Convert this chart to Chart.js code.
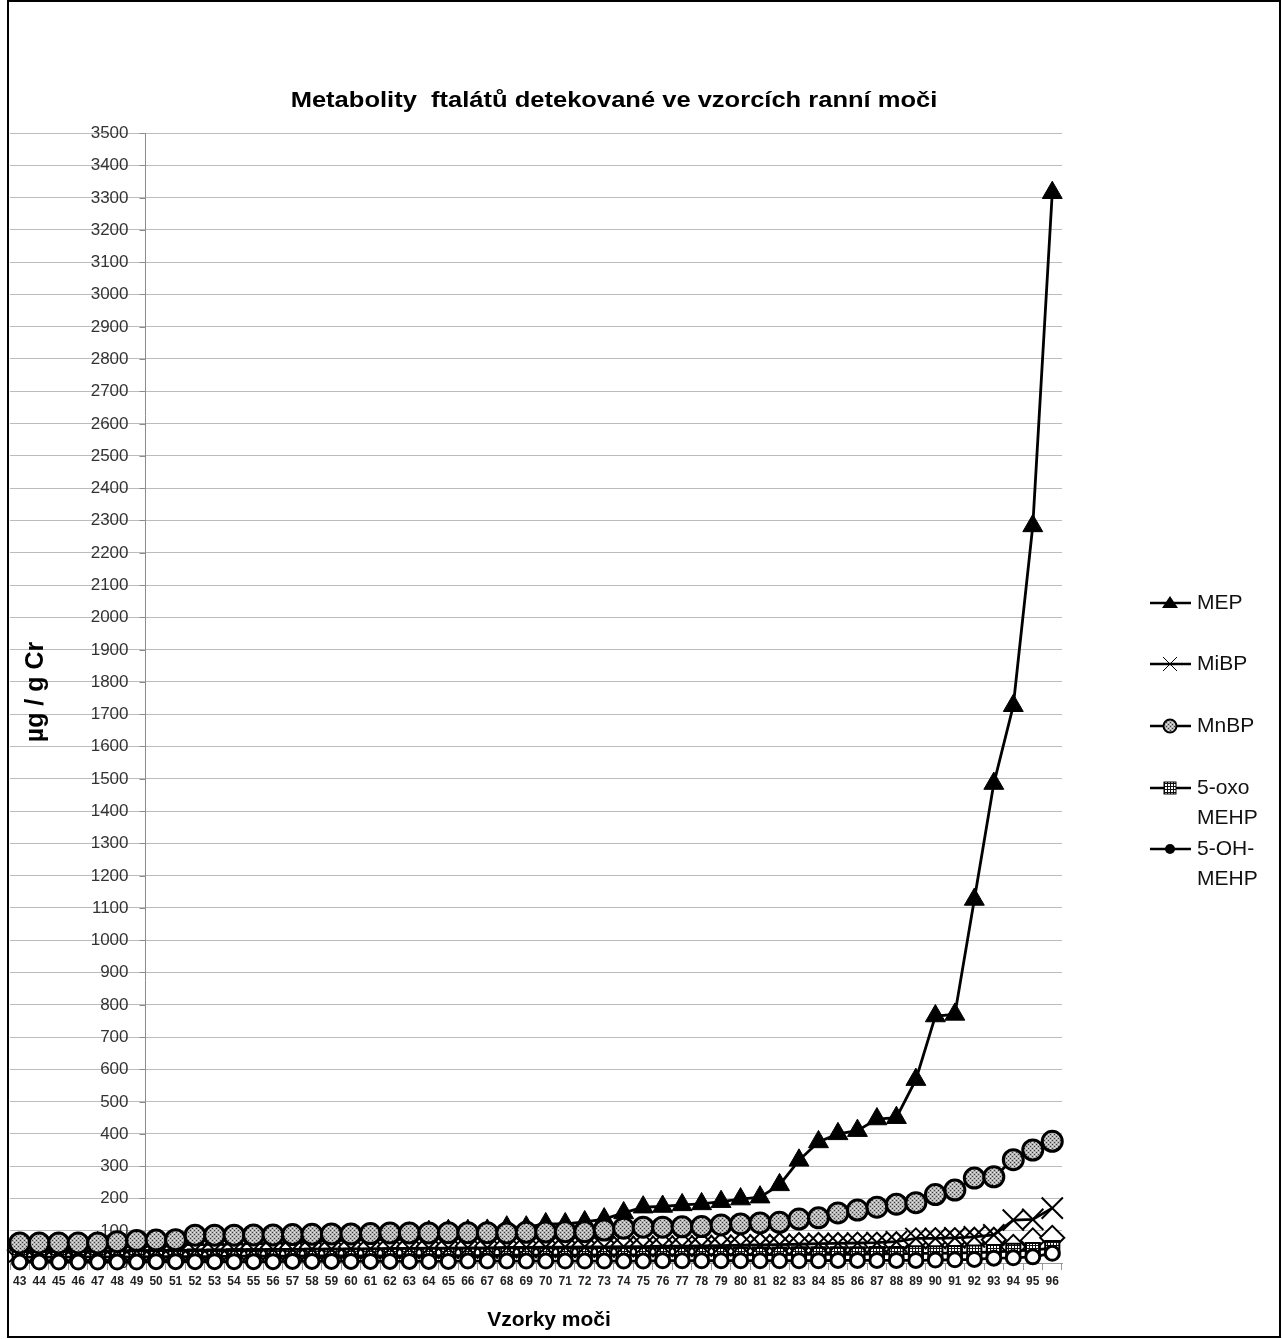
<!DOCTYPE html>
<html>
<head>
<meta charset="utf-8">
<title>Metabolity ftalátů</title>
<script src="https://cdn.jsdelivr.net/npm/chart.js@4.4.1/dist/chart.umd.min.js"></script>
<style>
  html, body { margin: 0; padding: 0; background: #fff; }
  #wrap { width: 1282px; height: 1339px; }
</style>
</head>
<body>
<div id="wrap"><canvas id="ftalatyChart" width="1282" height="1339"></canvas></div>
<script>
// Vzorky moči 43-96
var vzorky = ['43','44','45','46','47','48','49','50','51','52','53','54','55','56','57','58','59','60',
              '61','62','63','64','65','66','67','68','69','70','71','72','73','74','75','76','77','78',
              '79','80','81','82','83','84','85','86','87','88','89','90','91','92','93','94','95','96'];

var yTicks = [0,100,200,300,400,500,600,700,800,900,1000,1100,1200,1300,1400,1500,1600,1700,
              1800,1900,2000,2100,2200,2300,2400,2500,2600,2700,2800,2900,3000,3100,3200,3300,3400,3500];

// µg / g Cr
var mep = [55,57,58,60,62, 64,66,68,70,72, 73,74,75,78,80, 82,84,86,87,88,
           92,97,100,100,101, 111,111,121,121,127, 136,155,173,175,180,
           183,190,198,204,242, 318,375,400,410,446, 450,568,765,770,1126,
           1485,1726,2283,3315];

var mibp = [35,36,36,37,37, 38,38,39,39,40, 40,41,41,42,42, 43,43,44,44,45,
            45,46,46,47,47, 48,48,49,49,50, 50,51,51,52,52, 53,54,55,56,57,
            58,60,61,62,63, 66,76,76,78,81, 87,133,135,170];

var mnbp = [62,62,62,62,62, 66,70,71,72,86, 86,86,87,87,88, 89,90,90,91,93,
            93,93,94,94,94, 93,95,96,97,97, 102,108,111,111,112, 113,118,121,124,126,
            136,140,155,164,173, 182,187,212,226,263, 267,320,350,377];

var oxoMehp = [18,18,18,19,19, 19,19,20,20,20, 20,21,21,21,21, 22,22,22,22,22,
               23,23,23,23,23, 24,24,24,24,24, 25,25,25,25,25, 26,26,26,26,26,
               27,27,27,27,28, 28,30,30,31,32, 34,38,40,46];

var ohMehp = [3,3,3,3,3, 3,3,4,4,4, 4,4,4,4,5, 5,5,5,5,5, 5,5,5,6,6, 6,6,6,6,6,
              6,6,6,7,7, 7,7,7,7,7, 7,7,8,8,8, 8,8,9,10,11, 15,16,19,30];

var kosoctverce = [40,40,41,41,41, 42,42,43,43,44, 44,45,47,48,48, 49,49,50,50,51,
                   52,52,52,53,53, 53,53,53,54,54, 54,54,54,54,54, 55,55,55,55,55,
                   56,56,56,57,57, 58,70,71,71,72, 72,50,70,78];

// Fill patterns for the markers
function makePattern(size, draw) {
  var c = document.createElement('canvas');
  c.width = size; c.height = size;
  var g = c.getContext('2d');
  draw(g);
  return g.createPattern(c, 'repeat');
}
var grayDots = makePattern(4, function (g) {
  g.fillStyle = '#b4b4b4'; g.fillRect(0, 0, 4, 4);
  g.fillStyle = '#3c3c3c'; g.fillRect(0, 0, 1, 1); g.fillRect(2, 2, 1, 1);
  g.fillStyle = '#e6e6e6'; g.fillRect(2, 0, 1, 1); g.fillRect(0, 2, 1, 1);
});
var gridFill = makePattern(3, function (g) {
  g.fillStyle = '#fff'; g.fillRect(0, 0, 3, 3);
  g.fillStyle = '#111'; g.fillRect(0, 0, 3, 1); g.fillRect(0, 0, 1, 3);
});

var FONT = '"Liberation Sans", Arial, sans-serif';

function serie(label, data, style, order) {
  return Object.assign({
    label: label,
    data: data,
    order: order,
    clip: false,
    borderColor: '#000',
    borderWidth: 2.8,
    pointBorderColor: '#000',
    pointBorderWidth: 2,
    tension: 0,
    fill: false
  }, style);
}

var datasets = [
  serie('5-OH-MEHP', ohMehp, { pointStyle: 'circle', pointRadius: 7, pointBackgroundColor: '#fff', pointBorderWidth: 3 }, 0),
  serie('MnBP', mnbp, { pointStyle: 'circle', pointRadius: 10, pointBackgroundColor: grayDots, pointBorderWidth: 3 }, 1),
  serie('MEP', mep, { pointStyle: 'triangle', pointRadius: 11.5, pointBackgroundColor: '#000', pointBorderWidth: 1 }, 2),
  serie('MiBP', mibp, { pointStyle: 'crossRot', pointRadius: 15, pointBorderWidth: 2 }, 3),
  serie('5-oxo MEHP', oxoMehp, { pointStyle: 'rect', pointRadius: 10, pointBackgroundColor: gridFill, pointBorderWidth: 2 }, 4),
  serie('', kosoctverce, { pointStyle: 'rectRot', pointRadius: 12, pointBackgroundColor: '#fff', pointBorderWidth: 2 }, 5)
];

// legend entries (drawn by hand, wrapped names)
var legendItems = [
  { lines: ['MEP'], y: 603, shape: 'triangle' },
  { lines: ['MiBP'], y: 664, shape: 'cross' },
  { lines: ['MnBP'], y: 726, shape: 'circle' },
  { lines: ['5-oxo', 'MEHP'], y: 788, shape: 'square' },
  { lines: ['5-OH-', 'MEHP'], y: 849, shape: 'dot' }
];

var decorations = {
  id: 'decorations',
  beforeDatasetsDraw: function (chart) {
    var ctx = chart.ctx, x = chart.scales.x, y = chart.scales.y;
    // value axis crosses between samples 49 and 50
    var axisX = Math.round((x.getPixelForValue(6) + x.getPixelForValue(7)) / 2) - 0.5;
    ctx.save();
    ctx.strokeStyle = '#8c8c8c';
    ctx.lineWidth = 1;
    ctx.beginPath();
    ctx.moveTo(axisX, y.top);
    ctx.lineTo(axisX, y.bottom);
    ctx.stroke();
    ctx.font = '17px ' + FONT;
    ctx.fillStyle = '#333';
    ctx.textAlign = 'right';
    ctx.textBaseline = 'middle';
    yTicks.forEach(function (v) {
      var py = Math.round(y.getPixelForValue(v)) + 0.5;
      ctx.beginPath();
      ctx.moveTo(axisX - 6, py);
      ctx.lineTo(axisX, py);
      ctx.stroke();
      ctx.fillText(String(v), axisX - 17, py);
    });
    ctx.restore();
  },
  afterDraw: function (chart) {
    var ctx = chart.ctx;
    ctx.save();
    ctx.fillStyle = '#000';
    ctx.textAlign = 'center';
    ctx.textBaseline = 'middle';

    // title, stretched a little horizontally
    ctx.save();
    ctx.translate(614, 101);
    ctx.scale(1.16, 1);
    ctx.font = 'bold 22px ' + FONT;
    ctx.fillText('Metabolity  ftalátů detekované ve vzorcích ranní moči', 0, 0);
    ctx.restore();

    ctx.font = 'bold 21px ' + FONT;
    ctx.fillText('Vzorky moči', 549, 1320);

    ctx.save();
    ctx.translate(36, 692);
    ctx.rotate(-Math.PI / 2);
    ctx.font = 'bold 25px ' + FONT;
    ctx.fillText('µg / g Cr', 0, 0);
    ctx.restore();

    // legend
    ctx.font = '21px ' + FONT;
    ctx.textAlign = 'left';
    legendItems.forEach(function (it) {
      var cy = it.y, cx = 1170;
      ctx.strokeStyle = '#000';
      ctx.lineWidth = 2.5;
      ctx.beginPath();
      ctx.moveTo(1150, cy);
      ctx.lineTo(1191, cy);
      ctx.stroke();
      ctx.lineWidth = 1.5;
      if (it.shape === 'triangle') {
        ctx.fillStyle = '#000';
        ctx.beginPath();
        ctx.moveTo(cx, cy - 7); ctx.lineTo(cx + 8, cy + 5); ctx.lineTo(cx - 8, cy + 5);
        ctx.closePath(); ctx.fill();
      } else if (it.shape === 'cross') {
        ctx.lineWidth = 1;
        ctx.beginPath();
        ctx.moveTo(cx - 7, cy - 7); ctx.lineTo(cx + 7, cy + 7);
        ctx.moveTo(cx + 7, cy - 7); ctx.lineTo(cx - 7, cy + 7);
        ctx.stroke();
      } else if (it.shape === 'circle') {
        ctx.fillStyle = grayDots;
        ctx.lineWidth = 2;
        ctx.beginPath(); ctx.arc(cx, cy, 6.5, 0, Math.PI * 2); ctx.fill(); ctx.stroke();
      } else if (it.shape === 'square') {
        ctx.fillStyle = gridFill;
        ctx.fillRect(cx - 6, cy - 6, 12, 12);
        ctx.lineWidth = 1;
        ctx.strokeRect(cx - 6, cy - 6, 12, 12);
      } else {
        ctx.fillStyle = '#000';
        ctx.beginPath(); ctx.arc(cx, cy, 5, 0, Math.PI * 2); ctx.fill();
      }
      ctx.fillStyle = '#111';
      it.lines.forEach(function (t, i) {
        ctx.fillText(t, 1197, cy + i * 30);
      });
    });

    // outer frame
    ctx.strokeStyle = '#000';
    ctx.lineWidth = 2;
    ctx.strokeRect(8, 1, 1272, 1336);
    ctx.restore();
  }
};

var ctxFtalaty = document.getElementById('ftalatyChart').getContext('2d');
var ftalatyChart = new Chart(ctxFtalaty, {
  type: 'line',
  data: {
    labels: vzorky,
    datasets: datasets
  },
  options: {
    responsive: false,
    animation: false,
    layout: { autoPadding: false, padding: { left: 10, right: 220, top: 133, bottom: 0 } },
    plugins: {
      legend: { display: false },
      title: { display: false },
      tooltip: { enabled: false }
    },
    scales: {
      x: {
        type: 'category',
        offset: true,
        grid: { display: true, drawOnChartArea: false, drawTicks: true, tickLength: 7, offset: true, color: '#999' },
        border: { display: true, color: '#999' },
        ticks: {
          autoSkip: false, maxRotation: 0, padding: 4, color: '#222',
          font: { family: FONT, size: 12, weight: 'bold' }
        },
        afterFit: function (scale) { scale.height = 76; }
      },
      y: {
        min: 0,
        max: 3500,
        ticks: { stepSize: 100, display: false },
        grid: { color: '#bcbcbc', drawTicks: false },
        border: { display: false },
        afterFit: function (scale) { scale.width = 0; }
      }
    }
  },
  plugins: [decorations]
});
</script>
</body>
</html>
